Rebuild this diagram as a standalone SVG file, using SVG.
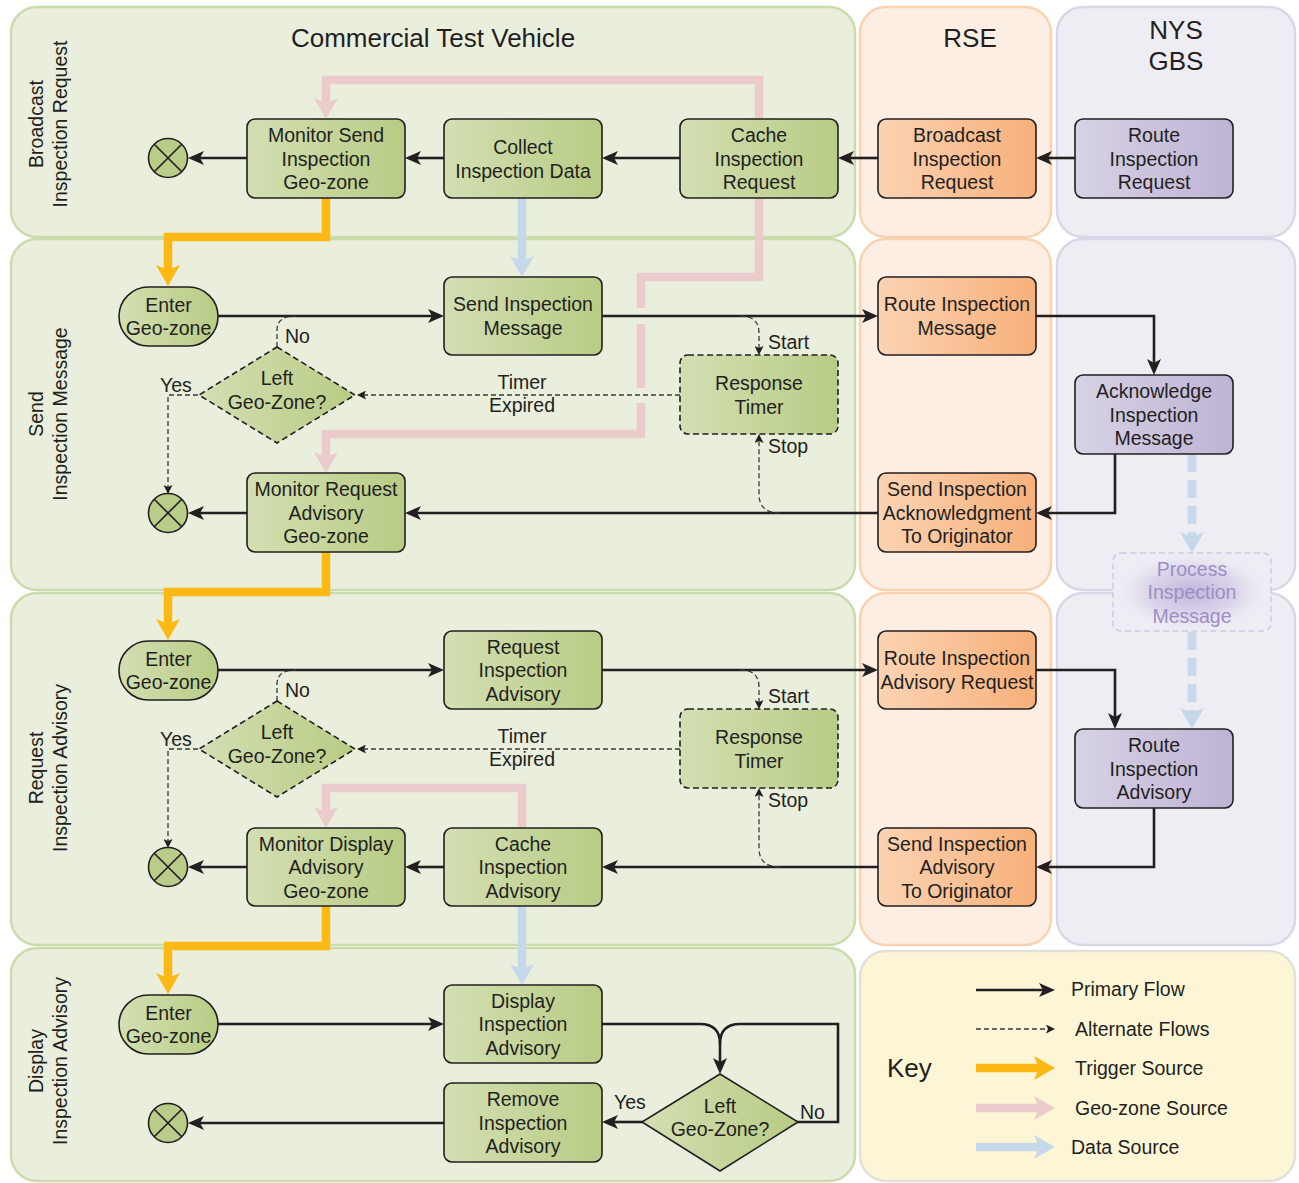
<svg xmlns="http://www.w3.org/2000/svg" width="1299" height="1183" viewBox="0 0 1299 1183">
<style>
.lg{fill:#e9eedd;stroke:#cadcab;stroke-width:2.5}
.lo{fill:#fdeee3;stroke:#fbd2b0;stroke-width:2.5}
.lp{fill:#eeedf4;stroke:#dad6e8;stroke-width:2.5}
.lk{fill:#fdf6d6;stroke:#e0e0dc;stroke-width:2.5}
text{font-family:"Liberation Sans",Arial,sans-serif;font-size:19.5px;fill:#231f20}
.c{text-anchor:middle}
.h{font-size:26px}
.ng{fill:url(#gG);stroke:#231f20;stroke-width:1.6}
.no{fill:url(#gO);stroke:#231f20;stroke-width:1.6}
.np{fill:url(#gP);stroke:#231f20;stroke-width:1.6}
.dsh{stroke-dasharray:6 3.5}
.end{fill:#b9cc88;stroke:#231f20;stroke-width:1.6}
.x{stroke:#231f20;stroke-width:1.6}
.pf{fill:none;stroke:#231f20;stroke-width:2.6;marker-end:url(#aP)}
.pl{fill:none;stroke:#231f20;stroke-width:2.6}
.af{fill:none;stroke:#3a3a3a;stroke-width:1.3;stroke-dasharray:5 3;marker-end:url(#aA)}
.al{fill:none;stroke:#3a3a3a;stroke-width:1.3;stroke-dasharray:5 3}
.tr{fill:none;stroke:#fdb913;stroke-width:8.5;marker-end:url(#aT)}
.gz{fill:none;stroke:#eccbcc;stroke-width:8.5}
.gza{marker-end:url(#aG)}
.ds{fill:none;stroke:#c6d8e9;stroke-width:8.5;marker-end:url(#aD)}
.dd{stroke-dasharray:18 8}
</style>
<defs>
<linearGradient id="gG" x1="0" y1="0" x2="1" y2="0"><stop offset="0" stop-color="#d3dfb3"/><stop offset="1" stop-color="#b8cc84"/></linearGradient>
<linearGradient id="gO" x1="0" y1="0" x2="1" y2="0"><stop offset="0" stop-color="#fbd3b3"/><stop offset="1" stop-color="#f7b07a"/></linearGradient>
<linearGradient id="gP" x1="0" y1="0" x2="1" y2="0"><stop offset="0" stop-color="#d7d2e5"/><stop offset="1" stop-color="#bfb3d5"/></linearGradient>
<radialGradient id="gR" cx="0.5" cy="0.5" r="0.5"><stop offset="0" stop-color="#c3b5dc"/><stop offset="0.55" stop-color="#d6cde8" stop-opacity="0.8"/><stop offset="1" stop-color="#eeedf4" stop-opacity="0"/></radialGradient>
<marker id="aP" markerUnits="userSpaceOnUse" viewBox="0 0 16 14" markerWidth="16" markerHeight="14" refX="7" refY="7" orient="auto"><path d="M0,0 L16,7 L0,14 L4,7 z" fill="#231f20"/></marker>
<marker id="aA" markerUnits="userSpaceOnUse" viewBox="0 0 9 9" markerWidth="9" markerHeight="9" refX="3" refY="4.5" orient="auto"><path d="M0,0 L9,4.5 L0,9 L2,4.5 z" fill="#231f20"/></marker>
<marker id="aT" markerUnits="userSpaceOnUse" viewBox="0 0 21 24" markerWidth="21" markerHeight="24" refX="8" refY="12" orient="auto"><path d="M0,0 L21,12 L0,24 L5,12 z" fill="#fdb913"/></marker>
<marker id="aG" markerUnits="userSpaceOnUse" viewBox="0 0 21 24" markerWidth="21" markerHeight="24" refX="8" refY="12" orient="auto"><path d="M0,0 L21,12 L0,24 L5,12 z" fill="#eccbcc"/></marker>
<marker id="aD" markerUnits="userSpaceOnUse" viewBox="0 0 21 24" markerWidth="21" markerHeight="24" refX="8" refY="12" orient="auto"><path d="M0,0 L21,12 L0,24 L5,12 z" fill="#c6d8e9"/></marker>
</defs>

<g id="lanes">
<rect class="lg" x="11" y="7" width="844" height="230" rx="26"/>
<rect class="lg" x="11" y="239" width="844" height="351" rx="26"/>
<rect class="lg" x="11" y="593" width="844" height="352" rx="26"/>
<rect class="lg" x="11" y="948" width="844" height="233" rx="26"/>
<rect class="lo" x="860" y="7" width="191" height="230" rx="26"/>
<rect class="lo" x="860" y="239" width="191" height="351" rx="26"/>
<rect class="lo" x="860" y="593" width="191" height="352" rx="26"/>
<rect class="lp" x="1057" y="7" width="238" height="230" rx="26"/>
<rect class="lp" x="1057" y="239" width="238" height="351" rx="26"/>
<rect class="lp" x="1057" y="593" width="238" height="352" rx="26"/>
<rect class="lk" x="860" y="951" width="435" height="230" rx="26"/>
<text class="c h" x="433" y="47">Commercial Test Vehicle</text>
<text class="c h" x="970" y="47">RSE</text>
<text class="c h" x="1176" y="39">NYS</text>
<text class="c h" x="1176" y="70">GBS</text>
<g transform="translate(43,124) rotate(-90)"><text class="c" x="0" y="0">Broadcast</text><text class="c" x="0" y="23.5">Inspection Request</text></g>
<g transform="translate(43,414) rotate(-90)"><text class="c" x="0" y="0">Send</text><text class="c" x="0" y="23.5">Inspection Message</text></g>
<g transform="translate(43,768) rotate(-90)"><text class="c" x="0" y="0">Request</text><text class="c" x="0" y="23.5">Inspection Advisory</text></g>
<g transform="translate(43,1061) rotate(-90)"><text class="c" x="0" y="0">Display</text><text class="c" x="0" y="23.5">Inspection Advisory</text></g>
</g>

<g id="connectors">
<!-- thick source flows -->
<path class="gz gza" d="M641,308 L641,277 L759,277 L759,80 L326,80 L326,106"/>
<path class="gz" d="M641,324 L641,388"/>
<path class="gz gza" d="M641,403 L641,434 L326,434 L326,460"/>
<path class="gz gza" d="M522,828 L522,788 L326,788 L326,815"/>
<path class="tr" d="M326,198 L326,237 L168,237 L168,273"/>
<path class="tr" d="M326,552 L326,592 L168,592 L168,627"/>
<path class="tr" d="M326,906 L326,946 L168,946 L168,981"/>
<path class="ds" d="M522,198 L522,264"/>
<path class="ds" d="M522,906 L522,972"/>
<path class="ds dd" d="M1192,454 L1192,540"/>
<path class="ds dd" d="M1192,632 L1192,716"/>
<!-- primary flows -->
<path class="pf" d="M1075,158 L1045,158"/>
<path class="pf" d="M878,158 L847,158"/>
<path class="pf" d="M680,158 L611,158"/>
<path class="pf" d="M444,158 L414,158"/>
<path class="pf" d="M247,158 L197,158"/>
<path class="pf" d="M218,316 L435,316"/>
<path class="pf" d="M602,316 L869,316"/>
<path class="pf" d="M1036,316 L1154,316 L1154,366"/>
<path class="pf" d="M1115,454 L1115,513 L1045,513"/>
<path class="pf" d="M878,513 L414,513"/>
<path class="pf" d="M247,513 L197,513"/>
<path class="pf" d="M218,670 L435,670"/>
<path class="pf" d="M602,670 L869,670"/>
<path class="pf" d="M1036,670 L1115,670 L1115,720"/>
<path class="pf" d="M1154,808 L1154,867 L1045,867"/>
<path class="pf" d="M878,867 L611,867"/>
<path class="pf" d="M444,867 L414,867"/>
<path class="pf" d="M247,867 L197,867"/>
<path class="pf" d="M218,1024 L435,1024"/>
<path class="pf" d="M602,1024 L700,1024 Q720,1024 720,1044 L720,1065"/>
<path class="pl" d="M797,1122 L838,1122 L838,1024 L740,1024 Q720,1024 720,1044"/>
<path class="pf" d="M643,1122 L611,1122"/>
<path class="pf" d="M444,1123 L197,1123"/>
<!-- alternate flows -->
<path class="af" d="M740,316 Q759,316 759,333 L759,349"/>
<path class="af" d="M780,513 Q759,513 759,494 L759,440"/>
<path class="af" d="M680,395 L363,395"/>
<path class="al" d="M277,347 L277,330 Q277,316 296,316"/>
<path class="af" d="M198,395 L168,395 L168,488"/>
<path class="af" d="M740,670 Q759,670 759,687 L759,703"/>
<path class="af" d="M780,867 Q759,867 759,848 L759,794"/>
<path class="af" d="M680,749 L363,749"/>
<path class="al" d="M277,701 L277,684 Q277,670 296,670"/>
<path class="af" d="M198,749 L168,749 L168,842"/>
<!-- labels -->
<text x="285" y="343">No</text>
<text x="160" y="392">Yes</text>
<text class="c" x="522" y="389">Timer</text>
<text class="c" x="522" y="412">Expired</text>
<text x="768" y="349">Start</text>
<text x="768" y="453">Stop</text>
<text x="285" y="697">No</text>
<text x="160" y="746">Yes</text>
<text class="c" x="522" y="743">Timer</text>
<text class="c" x="522" y="766">Expired</text>
<text x="768" y="703">Start</text>
<text x="768" y="807">Stop</text>
<text x="614" y="1109">Yes</text>
<text x="800" y="1119">No</text>
</g>

<g id="end1"><circle class="end" cx="168" cy="158" r="19.5"/><path class="x" d="M154.2,144.2 L181.8,171.8 M181.8,144.2 L154.2,171.8"/></g>
<g id="end2"><circle class="end" cx="168" cy="513" r="19.5"/><path class="x" d="M154.2,499.2 L181.8,526.8 M181.8,499.2 L154.2,526.8"/></g>
<g id="end3"><circle class="end" cx="168" cy="867" r="19.5"/><path class="x" d="M154.2,853.2 L181.8,880.8 M181.8,853.2 L154.2,880.8"/></g>
<g id="end4"><circle class="end" cx="168" cy="1123" r="19.5"/><path class="x" d="M154.2,1109.2 L181.8,1136.8 M181.8,1109.2 L154.2,1136.8"/></g>

<g id="monitor-send"><rect class="ng" x="247" y="119" width="158" height="79" rx="8"/><text class="c" x="326" y="142">Monitor Send</text><text class="c" x="326" y="165.5">Inspection</text><text class="c" x="326" y="189">Geo-zone</text></g>
<g id="collect"><rect class="ng" x="444" y="119" width="158" height="79" rx="8"/><text class="c" x="523" y="154">Collect</text><text class="c" x="523" y="177.5">Inspection Data</text></g>
<g id="cache-request"><rect class="ng" x="680" y="119" width="158" height="79" rx="8"/><text class="c" x="759" y="142">Cache</text><text class="c" x="759" y="165.5">Inspection</text><text class="c" x="759" y="189">Request</text></g>
<g id="broadcast"><rect class="no" x="878" y="119" width="158" height="79" rx="8"/><text class="c" x="957" y="142">Broadcast</text><text class="c" x="957" y="165.5">Inspection</text><text class="c" x="957" y="189">Request</text></g>
<g id="route-request"><rect class="np" x="1075" y="119" width="158" height="79" rx="8"/><text class="c" x="1154" y="142">Route</text><text class="c" x="1154" y="165.5">Inspection</text><text class="c" x="1154" y="189">Request</text></g>

<g id="enter1"><rect class="ng" x="119" y="287" width="99" height="59" rx="29.5"/><text class="c" x="168.5" y="312">Enter</text><text class="c" x="168.5" y="335">Geo-zone</text></g>
<g id="send-message"><rect class="ng" x="444" y="277" width="158" height="78" rx="8"/><text class="c" x="523" y="311">Send Inspection</text><text class="c" x="523" y="335">Message</text></g>
<g id="route-message"><rect class="no" x="878" y="277" width="158" height="78" rx="8"/><text class="c" x="957" y="311">Route Inspection</text><text class="c" x="957" y="335">Message</text></g>
<g id="left1"><path class="ng dsh" d="M277,347 L355,395 L277,443 L199,395 Z"/><text class="c" x="277" y="385">Left</text><text class="c" x="277" y="408.5">Geo-Zone?</text></g>
<g id="timer1"><rect class="ng dsh" x="680" y="355" width="158" height="79" rx="8"/><text class="c" x="759" y="390">Response</text><text class="c" x="759" y="413.5">Timer</text></g>
<g id="acknowledge"><rect class="np" x="1075" y="375" width="158" height="79" rx="8"/><text class="c" x="1154" y="398">Acknowledge</text><text class="c" x="1154" y="421.5">Inspection</text><text class="c" x="1154" y="445">Message</text></g>
<g id="monitor-request"><rect class="ng" x="247" y="473" width="158" height="79" rx="8"/><text class="c" x="326" y="496">Monitor Request</text><text class="c" x="326" y="519.5">Advisory</text><text class="c" x="326" y="543">Geo-zone</text></g>
<g id="send-ack"><rect class="no" x="878" y="473" width="158" height="79" rx="8"/><text class="c" x="957" y="496">Send Inspection</text><text class="c" x="957" y="519.5">Acknowledgment</text><text class="c" x="957" y="543">To Originator</text></g>
<g id="process"><rect x="1113" y="553" width="158" height="78" rx="8" fill="#eeedf4"/><ellipse cx="1192" cy="592" rx="80" ry="42" fill="url(#gR)"/><rect x="1113" y="553" width="158" height="78" rx="8" fill="none" stroke="#d0c9e0" stroke-width="1.5" stroke-dasharray="6 3.5"/><text class="c" x="1192" y="575.5" style="fill:#9d8ec4">Process</text><text class="c" x="1192" y="599" style="fill:#9d8ec4">Inspection</text><text class="c" x="1192" y="622.5" style="fill:#9d8ec4">Message</text></g>

<g id="enter2"><rect class="ng" x="119" y="641" width="99" height="59" rx="29.5"/><text class="c" x="168.5" y="666">Enter</text><text class="c" x="168.5" y="689">Geo-zone</text></g>
<g id="request-advisory"><rect class="ng" x="444" y="631" width="158" height="78" rx="8"/><text class="c" x="523" y="653.5">Request</text><text class="c" x="523" y="677">Inspection</text><text class="c" x="523" y="700.5">Advisory</text></g>
<g id="route-advisory-request"><rect class="no" x="878" y="631" width="158" height="78" rx="8"/><text class="c" x="957" y="665">Route Inspection</text><text class="c" x="957" y="688.5">Advisory Request</text></g>
<g id="left2"><path class="ng dsh" d="M277,701 L355,749 L277,797 L199,749 Z"/><text class="c" x="277" y="739">Left</text><text class="c" x="277" y="762.5">Geo-Zone?</text></g>
<g id="timer2"><rect class="ng dsh" x="680" y="709" width="158" height="79" rx="8"/><text class="c" x="759" y="744">Response</text><text class="c" x="759" y="767.5">Timer</text></g>
<g id="route-advisory"><rect class="np" x="1075" y="729" width="158" height="79" rx="8"/><text class="c" x="1154" y="752">Route</text><text class="c" x="1154" y="775.5">Inspection</text><text class="c" x="1154" y="799">Advisory</text></g>
<g id="monitor-display"><rect class="ng" x="247" y="828" width="158" height="78" rx="8"/><text class="c" x="326" y="850.5">Monitor Display</text><text class="c" x="326" y="874">Advisory</text><text class="c" x="326" y="897.5">Geo-zone</text></g>
<g id="cache-advisory"><rect class="ng" x="444" y="828" width="158" height="78" rx="8"/><text class="c" x="523" y="850.5">Cache</text><text class="c" x="523" y="874">Inspection</text><text class="c" x="523" y="897.5">Advisory</text></g>
<g id="send-advisory"><rect class="no" x="878" y="828" width="158" height="78" rx="8"/><text class="c" x="957" y="850.5">Send Inspection</text><text class="c" x="957" y="874">Advisory</text><text class="c" x="957" y="897.5">To Originator</text></g>

<g id="enter3"><rect class="ng" x="119" y="995" width="99" height="59" rx="29.5"/><text class="c" x="168.5" y="1020">Enter</text><text class="c" x="168.5" y="1043">Geo-zone</text></g>
<g id="display-advisory"><rect class="ng" x="444" y="985" width="158" height="78" rx="8"/><text class="c" x="523" y="1007.5">Display</text><text class="c" x="523" y="1031">Inspection</text><text class="c" x="523" y="1054.5">Advisory</text></g>
<g id="remove-advisory"><rect class="ng" x="444" y="1083" width="158" height="79" rx="8"/><text class="c" x="523" y="1106">Remove</text><text class="c" x="523" y="1129.5">Inspection</text><text class="c" x="523" y="1153">Advisory</text></g>
<g id="left3"><path class="ng" d="M720,1074 L798,1122 L720,1171 L642,1122 Z"/><text class="c" x="720" y="1113">Left</text><text class="c" x="720" y="1136">Geo-Zone?</text></g>

<g id="key">
<text class="h" x="887" y="1077">Key</text>
<path class="pf" d="M976,990 L1046,990"/>
<path class="af" d="M976,1029 L1049,1029"/>
<path class="tr" d="M976,1068 L1042,1068"/>
<path class="gz gza" d="M976,1108 L1042,1108"/>
<path class="ds" d="M976,1147 L1042,1147"/>
<text x="1071" y="996">Primary Flow</text>
<text x="1075" y="1036">Alternate Flows</text>
<text x="1075" y="1075">Trigger Source</text>
<text x="1075" y="1115">Geo-zone Source</text>
<text x="1071" y="1154">Data Source</text>
</g>
</svg>
